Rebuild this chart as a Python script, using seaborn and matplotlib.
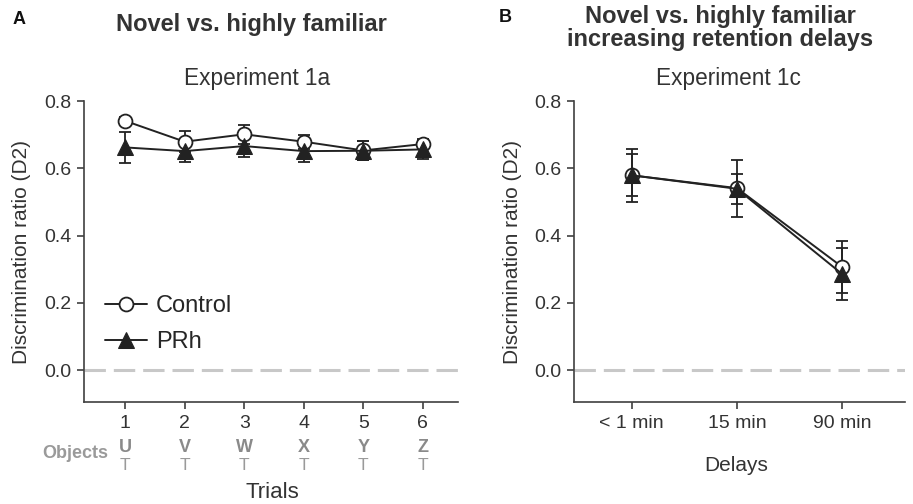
import numpy as np
import pandas as pd
import matplotlib
matplotlib.use("Agg")
import matplotlib.pyplot as plt
import matplotlib.transforms as mtransforms
import seaborn as sns

# Experiment 1a data (trials with objects)
trials = [1, 2, 3, 4, 5, 6]
objects = ["U", "V", "W", "X", "Y", "Z"]
control_1a = [0.741, 0.679, 0.701, 0.679, 0.653, 0.672]
control_1a_sem = [0.012, 0.032, 0.029, 0.021, 0.028, 0.016]
prh_1a = [0.662, 0.651, 0.666, 0.651, 0.652, 0.656]
prh_1a_sem = [0.046, 0.032, 0.032, 0.032, 0.028, 0.029]

# Experiment 1c data (retention delays)
delays = ["< 1 min", "15 min", "90 min"]
control_1c = [0.579, 0.541, 0.307]
control_1c_sem = [0.062, 0.085, 0.078]
prh_1c = [0.579, 0.539, 0.286]
prh_1c_sem = [0.078, 0.045, 0.078]

sns.set_style("ticks")
plt.rcParams["font.family"] = ["Liberation Sans", "DejaVu Sans"]

ink = "#222222"
axcol = "#404040"
txt = "#333333"

fig = plt.figure(figsize=(9.13, 5.04), dpi=100)
ax1 = fig.add_axes([84 / 913, 1 - 402 / 504, 374 / 913, 301 / 504])
ax2 = fig.add_axes([574 / 913, 1 - 402 / 504, 331 / 913, 301 / 504])


def draw_groups(ax, x, c, c_err, p, p_err):
    ax.axhline(0, color="#c8c8c8", lw=2.2, ls=(0, (7, 2.6)), zorder=1)
    ax.errorbar(x, c, yerr=c_err, fmt="none", ecolor=ink, elinewidth=1.3,
                capsize=4, capthick=1.3, zorder=2)
    ax.errorbar(x, p, yerr=p_err, fmt="none", ecolor=ink, elinewidth=1.3,
                capsize=4, capthick=1.3, zorder=2)
    sns.lineplot(x=x, y=c, ax=ax, color=ink, lw=1.4, marker="o", markersize=10,
                 markerfacecolor="white", markeredgecolor=ink, markeredgewidth=1.3,
                 label="Control", zorder=3)
    sns.lineplot(x=x, y=p, ax=ax, color=ink, lw=1.4, marker="^", markersize=11,
                 markerfacecolor=ink, markeredgecolor=ink,
                 label="PRh", zorder=4)


def style_axes(ax):
    ax.set_ylim(-0.095, 0.8)
    ax.set_yticks([0.0, 0.2, 0.4, 0.6, 0.8])
    ax.set_yticklabels(["0.0", "0.2", "0.4", "0.6", "0.8"])
    for s in ["top", "right"]:
        ax.spines[s].set_visible(False)
    for s in ["left", "bottom"]:
        ax.spines[s].set_color(axcol)
        ax.spines[s].set_linewidth(1.2)
    ax.tick_params(direction="out", length=5, width=1.2, color=axcol,
                   labelsize=14, labelcolor=txt, pad=4)
    ax.set_ylabel("Discrimination ratio (D2)", fontsize=15, color=txt)


# Panel A
draw_groups(ax1, trials, control_1a, control_1a_sem, prh_1a, prh_1a_sem)
style_axes(ax1)
ax1.set_xlim(0.31, 6.59)
ax1.set_xticks(trials)
ax1.set_xticklabels([str(t) for t in trials])
ax1.yaxis.set_label_coords(-0.142, 0.5)
ax1.set_xlabel("Trials", fontsize=16, color=txt)
ax1.xaxis.set_label_coords(0.503, -0.266)
ax1.legend(frameon=False, loc="upper left", bbox_to_anchor=(0.0, 0.425),
           fontsize=17, handlelength=1.75, handletextpad=0.4, labelspacing=0.6)

trans = mtransforms.blended_transform_factory(ax1.transData, ax1.transAxes)
for t, obj in zip(trials, objects):
    ax1.text(t, (402 - 447) / 301, obj, transform=trans, ha="center", va="center",
             fontsize=13, fontweight="bold", color="#8a8a8a")
    ax1.text(t, (402 - 465) / 301, "T", transform=trans, ha="center", va="center",
             fontsize=12.5, color="#9a9a9a")
ax1.text(0.064, (402 - 454) / 301, "Objects", transform=ax1.transAxes,
         ha="right", va="center", fontsize=13, fontweight="bold", color="#9a9a9a")

# Panel B
xpos = np.arange(len(delays))
draw_groups(ax2, xpos, control_1c, control_1c_sem, prh_1c, prh_1c_sem)
style_axes(ax2)
ax2.set_xlim(-0.55, 2.6)
ax2.set_xticks(xpos)
ax2.set_xticklabels(delays)
ax2.yaxis.set_label_coords(-0.157, 0.5)
ax2.set_xlabel("Delays", fontsize=15, color=txt)
ax2.xaxis.set_label_coords(0.49, -0.18)
ax2.get_legend().remove()

# Titles and panel letters
fig.text(19 / 913, 1 - 19 / 504, "A", fontsize=13, fontweight="bold",
         ha="center", va="center", color="#111111")
fig.text(505 / 913, 1 - 18 / 504, "B", fontsize=13, fontweight="bold",
         ha="center", va="center", color="#111111")
fig.text(251 / 913, 1 - 25 / 504, "Novel vs. highly familiar", fontsize=17,
         fontweight="bold", ha="center", va="center", color=txt)
fig.text(720 / 913, 1 - 28 / 504, "Novel vs. highly familiar\nincreasing retention delays",
         fontsize=17, fontweight="bold", ha="center", va="center", color=txt,
         linespacing=1.0)
fig.text(257 / 913, 1 - 78 / 504, "Experiment 1a", fontsize=16.3,
         ha="center", va="center", color=txt)
fig.text(728 / 913, 1 - 78 / 504, "Experiment 1c", fontsize=16.3,
         ha="center", va="center", color=txt)

fig.savefig("out.png", dpi=100)
plt.close(fig)
